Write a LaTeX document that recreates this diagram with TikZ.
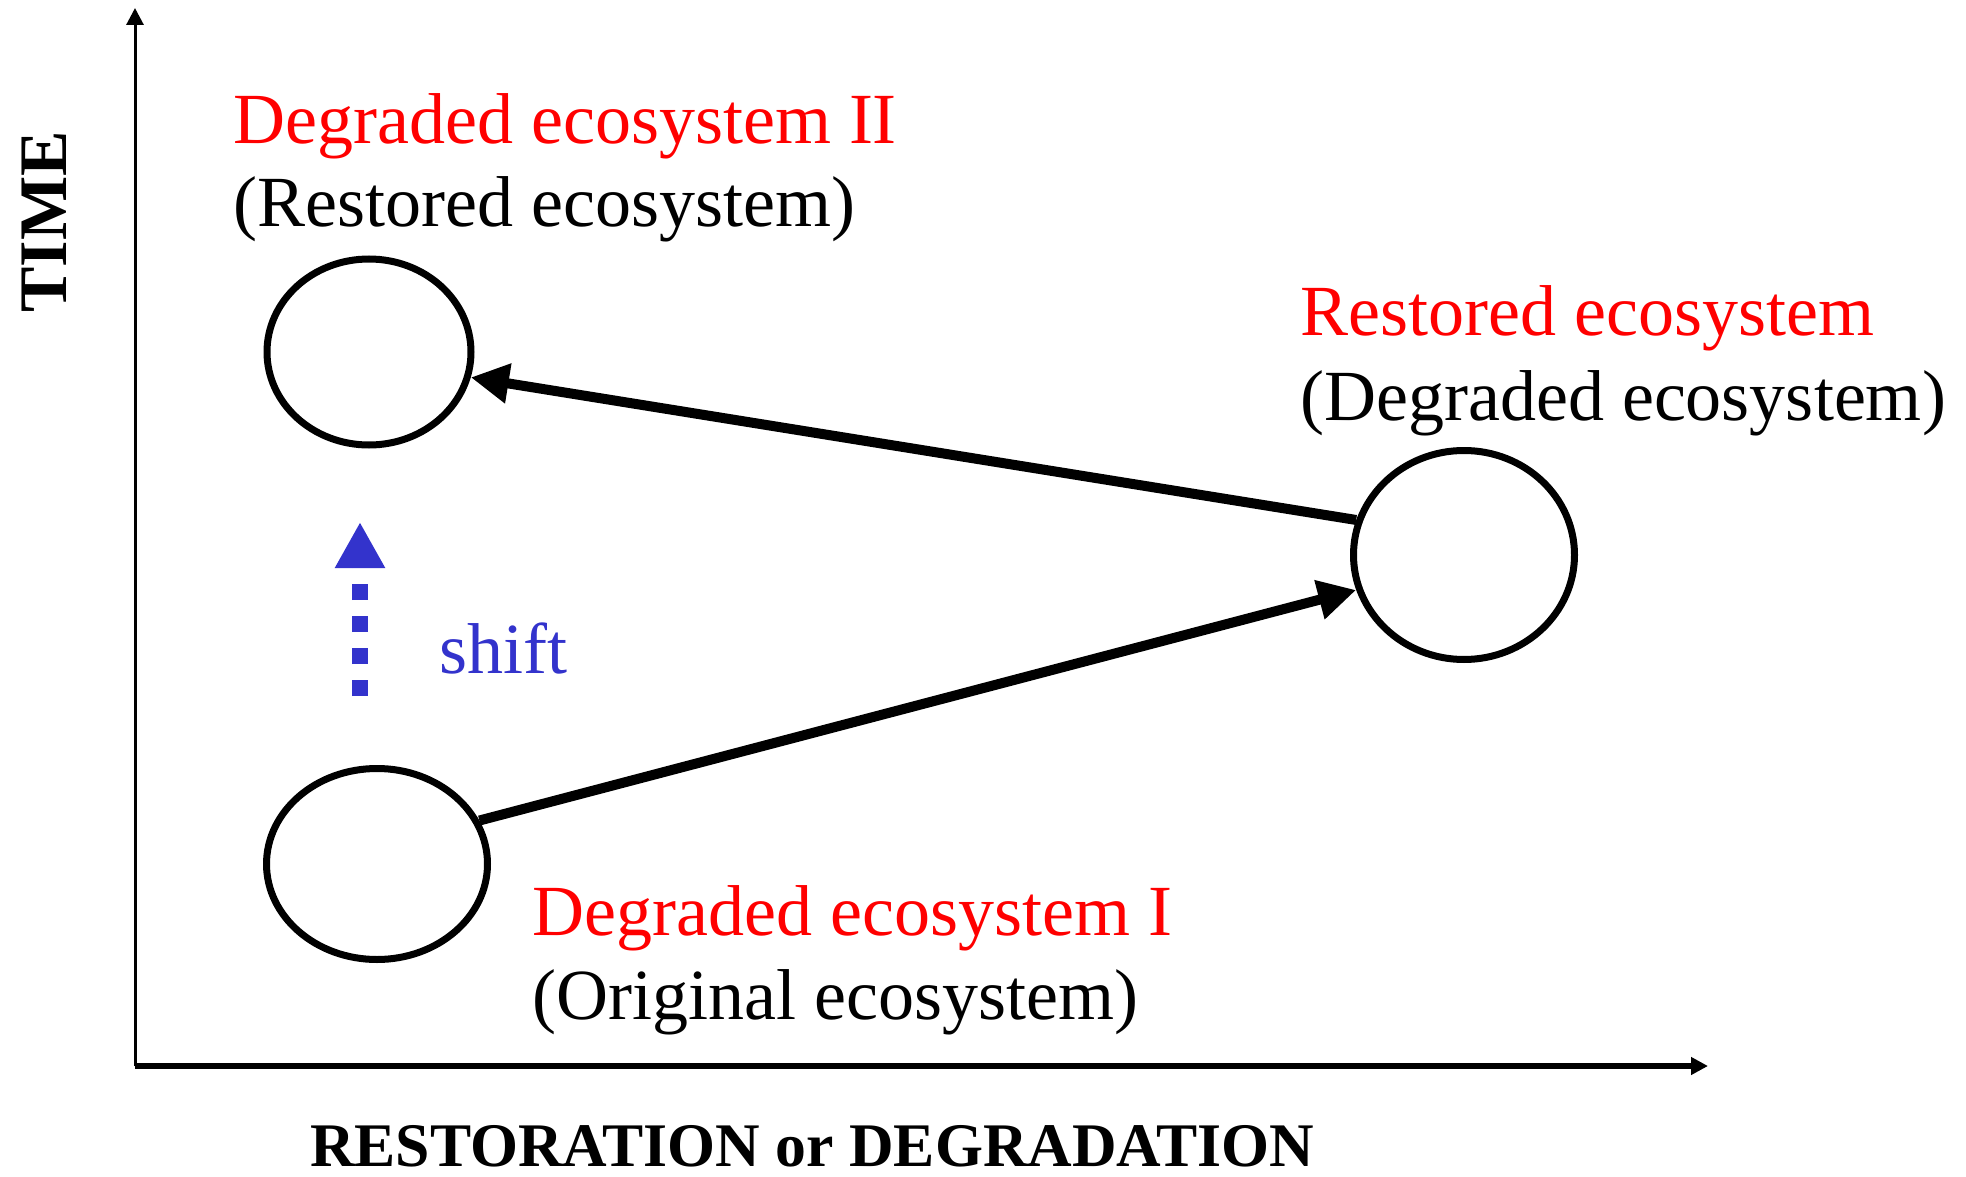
\documentclass[tikz,border=0pt]{standalone}
\usepackage{fontspec}
\setmainfont{Liberation Serif}
\usetikzlibrary{arrows.meta,shapes.geometric}
\definecolor{shiftblue}{HTML}{3333CC}
\begin{document}
\begin{tikzpicture}[x=1pt,y=-1pt,
  eco/.style={draw,ellipse,line width=7pt,inner sep=0pt},
  lbl/.style={anchor=base west,inner sep=0pt,font=\fontsize{72}{83}\selectfont},
  redlbl/.style={lbl,text=red},
  flow/.style={line width=10pt,-{Triangle[length=38pt,width=38pt]}},
  axisline/.style={-{Triangle[length=17pt,width=17pt]}},
  axislbl/.style={inner sep=0pt,font=\bfseries\fontsize{62}{70}\selectfont}]
\useasboundingbox (0,0) rectangle (1966,1177);
% axes
\coordinate (origin) at (135,1066);
\coordinate (ytip) at (135,8);
\coordinate (xtip) at (1708,1066);
\draw[axisline,line width=3pt] (origin) -- (ytip);
\draw[axisline,line width=6pt] (origin) -- (xtip);
\node[axislbl,anchor=base west,xscale=0.995] (xlab) at (310,1166) {RESTORATION or DEGRADATION};
\node[axislbl,rotate=90,font=\bfseries\fontsize{68}{70}\selectfont] (ylab) at (44,222) {TIME};
% ecosystems
\node[eco,minimum width=204pt,minimum height=186pt] (c2) at (369,352) {};
\node[eco,minimum width=221pt,minimum height=191pt] (c1) at (377,864) {};
\node[eco,minimum width=221pt,minimum height=209pt] (c3) at (1464,555) {};
% labels
\node[redlbl] (t2a) at (233,144) {Degraded ecosystem II};
\node[lbl] (t2b) at (233,227) {(Restored ecosystem)};
\node[redlbl] (t3a) at (1300,335) {Restored ecosystem};
\node[lbl] (t3b) at (1300,420) {(Degraded ecosystem)};
\node[redlbl] (t1a) at (532,935) {Degraded ecosystem I};
\node[lbl] (t1b) at (532,1019) {(Original ecosystem)};
\node[lbl,text=shiftblue] (shiftlbl) at (439,673) {shift};
% arrows
\draw[flow] (c1.23) -- (c3.198);
\draw[flow] (c3.162) -- (c2.346);
% shift arrow
\coordinate (sbot) at (360,696);
\coordinate (stop) at (360,522);
\draw[shiftblue,line width=16pt,dash pattern=on 16pt off 16pt,-{Triangle[length=46pt,width=47pt]}] (sbot) -- (stop);
\end{tikzpicture}
\end{document}
